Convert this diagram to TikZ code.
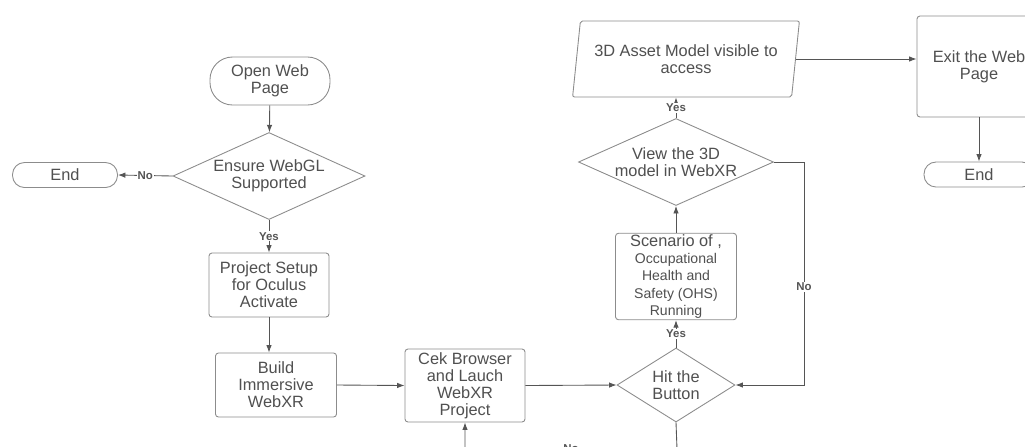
\documentclass[tikz,border=0pt]{standalone}
\usepackage{fontspec}
\setmainfont{Liberation Sans}
\usetikzlibrary{arrows.meta,shapes.geometric}
\definecolor{webxrLine}{HTML}{555555}
\definecolor{webxrRule}{HTML}{8C8C8C}
\definecolor{webxrText}{HTML}{505050}
\tikzset{
  webxrBox/.style={
    draw=webxrRule,
    fill=white,
    rounded corners=0.6mm,
    line width=0.5pt,
    align=center,
    text=webxrText,
    inner sep=1pt,
    font=\fontsize{9.3}{9.7}\selectfont
  },
  webxrTerm/.style={
    webxrBox,
    rounded corners=4.5mm
  },
  webxrEnd/.style={
    webxrBox,
    rounded corners=2.4mm,
    minimum width=21mm,
    minimum height=5mm
  },
  webxrDecision/.style={
    webxrBox,
    diamond,
    sharp corners,
    inner sep=0pt
  },
  webxrData/.style={
    webxrBox,
    trapezium,
    trapezium left angle=78,
    trapezium right angle=102,
    trapezium stretches=true,
    rounded corners=0.4mm
  },
  webxrArrow/.style={
    -{Latex[length=1.5mm,width=1.1mm]},
    draw=webxrLine,
    line width=0.5pt
  },
  webxrLabel/.style={
    fill=white,
    inner sep=0.6pt,
    text=webxrLine,
    font=\bfseries\fontsize{6.5}{7}\selectfont
  }
}
\newcommand{\webxrSmall}{\fontsize{8}{8.1}\selectfont}

\begin{document}
\begin{tikzpicture}[x=0.2mm, y=-0.2mm]
\useasboundingbox (0,0) rectangle (1025,446);
\clip (0,0) rectangle (1025,446);

% left column
\node[webxrTerm, minimum width=24mm, minimum height=9.6mm] (open)
  at (270,81) {Open Web\\Page};
\node[webxrDecision, minimum width=38.4mm, minimum height=17.4mm,
      shape aspect=2.2] (webgl)
  at (269,176) {Ensure WebGL\\Supported};
\node[webxrEnd] (endA) at (65,175) {End};
\node[webxrBox, minimum width=24mm, minimum height=12.8mm] (setup)
  at (269,285) {Project Setup\\for Oculus\\Activate};
\node[webxrBox, minimum width=24.2mm, minimum height=12.8mm] (build)
  at (276,385) {Build\\Immersive\\WebXR};
\node[webxrBox, minimum width=24mm, minimum height=14.6mm] (cek)
  at (465,385.5) {Cek Browser\\and Lauch\\WebXR\\Project};

% middle column
\node[webxrDecision, minimum width=23.6mm, minimum height=14.8mm,
      shape aspect=1.6] (hit)
  at (676,385) {Hit the\\Button};
\node[webxrBox, minimum width=24.2mm, minimum height=17mm] (scenario)
  at (676,276.5) {Scenario of ,\\\webxrSmall Occupational\\\webxrSmall Health and\\
  \webxrSmall Safety (OHS)\\\webxrSmall Running};
\node[webxrDecision, minimum width=39mm, minimum height=17.4mm,
      shape aspect=2.2] (view)
  at (676,162) {View the 3D\\model in WebXR};
\node[webxrData, minimum width=45.4mm, minimum height=15.2mm] (asset)
  at (686,59) {3D Asset Model visible to\\access};

% right column
\node[webxrBox, minimum width=24.8mm, minimum height=20.2mm] (exitp)
  at (979,66.5) {Exit the Web\\Page};
\node[webxrEnd, minimum width=22mm] (endB) at (979,174.5) {End};

\coordinate (loopBack) at (677,449);

\draw[webxrArrow] (open) -- (webgl);
\draw[webxrArrow] (webgl.west) -- node[webxrLabel] {No} (endA.east);
\draw[webxrArrow] (webgl.south) -- node[webxrLabel] {Yes} (setup.north);
\draw[webxrArrow] (setup.south) -- (setup.south |- build.north);
\draw[webxrArrow] (build.east) -- (cek.west);
\draw[webxrArrow] (cek.east) -- (hit.west);
\draw[webxrArrow] (hit.north) -- node[webxrLabel] {Yes} (scenario.south);
\draw[webxrArrow] (scenario.north) -- (view.south);
\draw[webxrArrow] (view.north) -- node[webxrLabel] {Yes} (view.north |- asset.south);
\draw[webxrArrow] (view.east) -- ++(30,0) |- node[webxrLabel, pos=0.28] {No} (hit.east);
\draw[webxrArrow] (asset.east) -- (asset.east -| exitp.west);
\draw[webxrArrow] (exitp.south) -- (endB.north);
\draw[webxrArrow] (hit.south) -- (loopBack) -| node[webxrLabel, pos=0.25] {No} (cek.south);
\end{tikzpicture}
\end{document}
